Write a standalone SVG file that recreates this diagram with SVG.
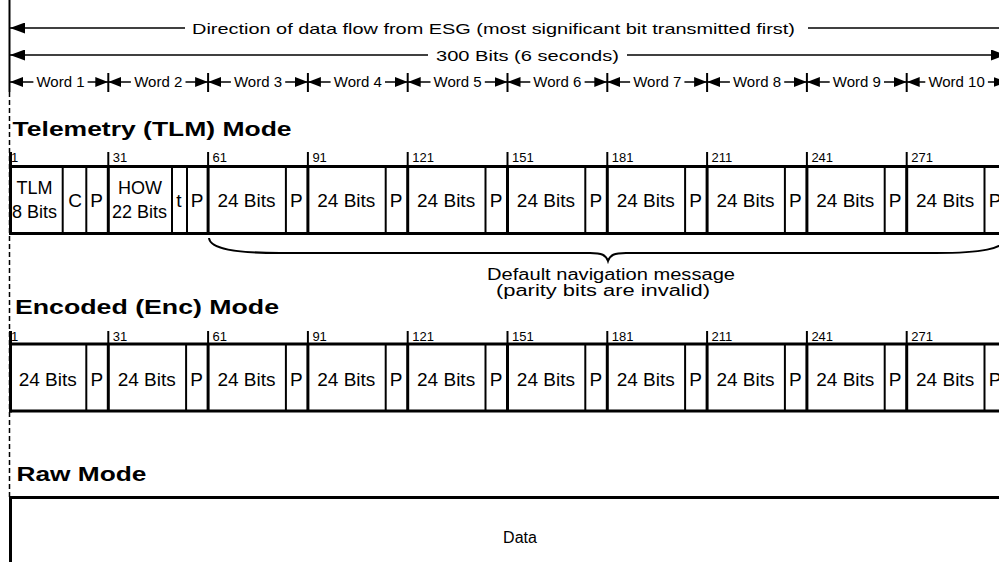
<svg xmlns="http://www.w3.org/2000/svg" width="999" height="562" viewBox="0 0 999 562">
<style>
text{font-family:"Liberation Sans",Arial,sans-serif;fill:#000}
.title{font-weight:bold;font-size:20px}
.num{font-size:13px}
.cell{font-size:19px;text-anchor:middle}
.cell2{font-size:18px;text-anchor:middle}
.word{font-size:15px;text-anchor:middle}
.hdr{font-size:15px;text-anchor:middle}
.note{font-size:16px;text-anchor:middle}
.thick{stroke:#000;stroke-width:3;fill:none}
.thin{stroke:#000;stroke-width:2;fill:none}
.tick{stroke:#000;stroke-width:2}
.arr{stroke:#000;stroke-width:1.5;fill:none}
.wa{stroke:#000;stroke-width:1.5;fill:none;marker-end:url(#ah)}
.wl{stroke:#000;stroke-width:1.5;fill:none;marker-start:url(#ah)}
</style>
<defs>
<marker id="ah" viewBox="0 0 13 10" refX="13" refY="5" markerWidth="13" markerHeight="10" markerUnits="userSpaceOnUse" orient="auto-start-reverse"><path d="M0,0 L13,5 L0,10 z" fill="#000"/></marker>
<marker id="ah2" viewBox="0 0 15 11" refX="15" refY="5.5" markerWidth="15" markerHeight="11" markerUnits="userSpaceOnUse" orient="auto-start-reverse"><path d="M0,0 L15,5.5 L0,11 z" fill="#000"/></marker>
</defs>
<rect width="999" height="562" fill="#fff"/>

<!-- left reference line -->
<g id="left-edge">
<line x1="9.5" y1="0" x2="9.5" y2="92" stroke="#000" stroke-width="2"/>
<line x1="9.5" y1="92" x2="9.5" y2="497" stroke="#000" stroke-width="1.5" stroke-dasharray="5 3"/>
</g>

<g id="connectors">
<!-- direction of data flow -->
<line class="arr" x1="10" y1="28" x2="185" y2="28" marker-start="url(#ah2)"/>
<line class="arr" x1="808" y1="28" x2="1000" y2="28"/>
<!-- 300 bits -->
<line class="arr" x1="10" y1="55" x2="428" y2="55" marker-start="url(#ah2)"/>
<line class="arr" x1="627" y1="55" x2="1006" y2="55" marker-end="url(#ah2)"/>
<!-- word arrows -->
<line class="wl" x1="10" y1="82" x2="33.4" y2="82"/><line class="wa" x1="87.6" y1="82" x2="108.3" y2="82"/>
<line class="wl" x1="108.3" y1="82" x2="130.9" y2="82"/><line class="wa" x1="185.5" y1="82" x2="208.1" y2="82"/>
<line class="wl" x1="208.1" y1="82" x2="230.9" y2="82"/><line class="wa" x1="285.2" y1="82" x2="307.9" y2="82"/>
<line class="wl" x1="307.9" y1="82" x2="330.6" y2="82"/><line class="wa" x1="385" y1="82" x2="407.7" y2="82"/>
<line class="wl" x1="407.7" y1="82" x2="430.5" y2="82"/><line class="wa" x1="484.8" y1="82" x2="507.5" y2="82"/>
<line class="wl" x1="507.5" y1="82" x2="530.3" y2="82"/><line class="wa" x1="584.6" y1="82" x2="607.3" y2="82"/>
<line class="wl" x1="607.3" y1="82" x2="630.1" y2="82"/><line class="wa" x1="684.4" y1="82" x2="707.1" y2="82"/>
<line class="wl" x1="707.1" y1="82" x2="729.9" y2="82"/><line class="wa" x1="784.2" y1="82" x2="806.9" y2="82"/>
<line class="wl" x1="806.9" y1="82" x2="829.7" y2="82"/><line class="wa" x1="884" y1="82" x2="906.7" y2="82"/>
<line class="wl" x1="906.7" y1="82" x2="925.3" y2="82"/><line class="wa" x1="987.9" y1="82" x2="1006.5" y2="82"/>
<!-- word ticks -->
<g class="tick">
<line x1="108.3" y1="73" x2="108.3" y2="92"/><line x1="208.1" y1="73" x2="208.1" y2="92"/>
<line x1="307.9" y1="73" x2="307.9" y2="92"/><line x1="407.7" y1="73" x2="407.7" y2="92"/>
<line x1="507.5" y1="73" x2="507.5" y2="92"/><line x1="607.3" y1="73" x2="607.3" y2="92"/>
<line x1="707.1" y1="73" x2="707.1" y2="92"/><line x1="806.9" y1="73" x2="806.9" y2="92"/>
<line x1="906.7" y1="73" x2="906.7" y2="92"/>
</g>
<!-- brace -->
<path class="thin" d="M209,238 C210,249 235,253 280,253 L590,253 C602,253 606,255 608,261 C610,255 614,253 626,253 L936,253 C981,253 1004,249 1006,238"/>
</g>

<g id="header-labels">
<text class="hdr" x="493.5" y="33.5" textLength="603" lengthAdjust="spacingAndGlyphs">Direction of data flow from ESG (most significant bit transmitted first)</text>
<text class="hdr" x="527.5" y="60.5" textLength="183" lengthAdjust="spacingAndGlyphs">300 Bits (6 seconds)</text>
<text class="word" x="60.5" y="87.4">Word 1</text>
<text class="word" x="158.2" y="87.4">Word 2</text>
<text class="word" x="258" y="87.4">Word 3</text>
<text class="word" x="357.8" y="87.4">Word 4</text>
<text class="word" x="457.6" y="87.4">Word 5</text>
<text class="word" x="557.4" y="87.4">Word 6</text>
<text class="word" x="657.2" y="87.4">Word 7</text>
<text class="word" x="757" y="87.4">Word 8</text>
<text class="word" x="856.8" y="87.4">Word 9</text>
<text class="word" x="956.6" y="87.4">Word 10</text>
</g>

<!-- Telemetry mode -->
<g id="tlm-mode">
<text class="title" x="12.6" y="136" textLength="279" lengthAdjust="spacingAndGlyphs">Telemetry (TLM) Mode</text>
<g class="tick">
<line x1="108.3" y1="152" x2="108.3" y2="166"/><line x1="208.1" y1="152" x2="208.1" y2="166"/>
<line x1="307.9" y1="152" x2="307.9" y2="166"/><line x1="407.7" y1="152" x2="407.7" y2="166"/>
<line x1="507.5" y1="152" x2="507.5" y2="166"/><line x1="607.3" y1="152" x2="607.3" y2="166"/>
<line x1="707.1" y1="152" x2="707.1" y2="166"/><line x1="806.9" y1="152" x2="806.9" y2="166"/>
<line x1="906.7" y1="152" x2="906.7" y2="166"/>
</g>
<g class="num-labels">
<text class="num" x="11" y="162">1</text><text class="num" x="112.8" y="162">31</text>
<text class="num" x="212.6" y="162">61</text><text class="num" x="312.4" y="162">91</text>
<text class="num" x="412.2" y="162">121</text><text class="num" x="512" y="162">151</text>
<text class="num" x="611.8" y="162">181</text><text class="num" x="711.6" y="162">211</text>
<text class="num" x="811.4" y="162">241</text><text class="num" x="911.2" y="162">271</text>
</g>
<line class="thick" x1="10" y1="166.5" x2="1010" y2="166.5"/>
<line class="thick" x1="10" y1="233.5" x2="1010" y2="233.5"/>
<line class="thick" x1="10.5" y1="152" x2="10.5" y2="235"/>
<g id="tlm-tlm"><line class="thin" x1="62.7" y1="166" x2="62.7" y2="234"/><text class="cell2" x="34.5" y="194">TLM</text><text class="cell2" x="34.5" y="218">8 Bits</text></g>
<g id="tlm-c"><line class="thin" x1="86.3" y1="166" x2="86.3" y2="234"/><text class="cell" x="75" y="207">C</text></g>
<g id="tlm-p1"><line class="thick" x1="108.3" y1="166" x2="108.3" y2="234"/><text class="cell" x="96.5" y="207">P</text></g>
<g id="tlm-how"><line class="thin" x1="172" y1="166" x2="172" y2="234"/><text class="cell2" x="140" y="194">HOW</text><text class="cell2" x="139.5" y="218">22 Bits</text></g>
<g id="tlm-t"><line class="thin" x1="187" y1="166" x2="187" y2="234"/><text class="cell" x="179" y="207">t</text></g>
<g id="tlm-p2"><line class="thick" x1="208.1" y1="166" x2="208.1" y2="234"/><text class="cell" x="197" y="207">P</text></g>
<g id="tlm-w3"><line class="thin" x1="285.9" y1="166" x2="285.9" y2="234"/><text class="cell" x="246.5" y="207">24 Bits</text><line class="thick" x1="307.9" y1="166" x2="307.9" y2="234"/><text class="cell" x="296.4" y="207">P</text></g>
<g id="tlm-w4"><line class="thin" x1="385.7" y1="166" x2="385.7" y2="234"/><text class="cell" x="346.3" y="207">24 Bits</text><line class="thick" x1="407.7" y1="166" x2="407.7" y2="234"/><text class="cell" x="396.2" y="207">P</text></g>
<g id="tlm-w5"><line class="thin" x1="485.5" y1="166" x2="485.5" y2="234"/><text class="cell" x="446.1" y="207">24 Bits</text><line class="thick" x1="507.5" y1="166" x2="507.5" y2="234"/><text class="cell" x="496" y="207">P</text></g>
<g id="tlm-w6"><line class="thin" x1="585.3" y1="166" x2="585.3" y2="234"/><text class="cell" x="545.9" y="207">24 Bits</text><line class="thick" x1="607.3" y1="166" x2="607.3" y2="234"/><text class="cell" x="595.8" y="207">P</text></g>
<g id="tlm-w7"><line class="thin" x1="685.1" y1="166" x2="685.1" y2="234"/><text class="cell" x="645.7" y="207">24 Bits</text><line class="thick" x1="707.1" y1="166" x2="707.1" y2="234"/><text class="cell" x="695.6" y="207">P</text></g>
<g id="tlm-w8"><line class="thin" x1="784.9" y1="166" x2="784.9" y2="234"/><text class="cell" x="745.5" y="207">24 Bits</text><line class="thick" x1="806.9" y1="166" x2="806.9" y2="234"/><text class="cell" x="795.4" y="207">P</text></g>
<g id="tlm-w9"><line class="thin" x1="884.7" y1="166" x2="884.7" y2="234"/><text class="cell" x="845.3" y="207">24 Bits</text><line class="thick" x1="906.7" y1="166" x2="906.7" y2="234"/><text class="cell" x="895.2" y="207">P</text></g>
<g id="tlm-w10"><line class="thin" x1="984.5" y1="166" x2="984.5" y2="234"/><text class="cell" x="945.1" y="207">24 Bits</text><text class="cell" x="995" y="207">P</text></g>
</g>

<g id="nav-note">
<text class="note" x="611" y="280" textLength="248" lengthAdjust="spacingAndGlyphs">Default navigation message</text>
<text class="note" x="603" y="295.5" textLength="214" lengthAdjust="spacingAndGlyphs">(parity bits are invalid)</text>
</g>

<!-- Encoded mode -->
<g id="enc-mode">
<text class="title" x="15" y="314" textLength="264" lengthAdjust="spacingAndGlyphs">Encoded (Enc) Mode</text>
<g class="tick">
<line x1="108.3" y1="331" x2="108.3" y2="344"/><line x1="208.1" y1="331" x2="208.1" y2="344"/>
<line x1="307.9" y1="331" x2="307.9" y2="344"/><line x1="407.7" y1="331" x2="407.7" y2="344"/>
<line x1="507.5" y1="331" x2="507.5" y2="344"/><line x1="607.3" y1="331" x2="607.3" y2="344"/>
<line x1="707.1" y1="331" x2="707.1" y2="344"/><line x1="806.9" y1="331" x2="806.9" y2="344"/>
<line x1="906.7" y1="331" x2="906.7" y2="344"/>
</g>
<g class="num-labels">
<text class="num" x="11" y="340.5">1</text><text class="num" x="112.8" y="340.5">31</text>
<text class="num" x="212.6" y="340.5">61</text><text class="num" x="312.4" y="340.5">91</text>
<text class="num" x="412.2" y="340.5">121</text><text class="num" x="512" y="340.5">151</text>
<text class="num" x="611.8" y="340.5">181</text><text class="num" x="711.6" y="340.5">211</text>
<text class="num" x="811.4" y="340.5">241</text><text class="num" x="911.2" y="340.5">271</text>
</g>
<line class="thick" x1="10" y1="344" x2="1010" y2="344"/>
<line class="thick" x1="10" y1="411" x2="1010" y2="411"/>
<line class="thick" x1="10.5" y1="331" x2="10.5" y2="412.5"/>
<g id="enc-w1"><line class="thin" x1="86.3" y1="344" x2="86.3" y2="411"/><text class="cell" x="47.7" y="386">24 Bits</text><line class="thick" x1="108.3" y1="344" x2="108.3" y2="411"/><text class="cell" x="96.8" y="386">P</text></g>
<g id="enc-w2"><line class="thin" x1="186.1" y1="344" x2="186.1" y2="411"/><text class="cell" x="146.7" y="386">24 Bits</text><line class="thick" x1="208.1" y1="344" x2="208.1" y2="411"/><text class="cell" x="196.6" y="386">P</text></g>
<g id="enc-w3"><line class="thin" x1="285.9" y1="344" x2="285.9" y2="411"/><text class="cell" x="246.5" y="386">24 Bits</text><line class="thick" x1="307.9" y1="344" x2="307.9" y2="411"/><text class="cell" x="296.4" y="386">P</text></g>
<g id="enc-w4"><line class="thin" x1="385.7" y1="344" x2="385.7" y2="411"/><text class="cell" x="346.3" y="386">24 Bits</text><line class="thick" x1="407.7" y1="344" x2="407.7" y2="411"/><text class="cell" x="396.2" y="386">P</text></g>
<g id="enc-w5"><line class="thin" x1="485.5" y1="344" x2="485.5" y2="411"/><text class="cell" x="446.1" y="386">24 Bits</text><line class="thick" x1="507.5" y1="344" x2="507.5" y2="411"/><text class="cell" x="496" y="386">P</text></g>
<g id="enc-w6"><line class="thin" x1="585.3" y1="344" x2="585.3" y2="411"/><text class="cell" x="545.9" y="386">24 Bits</text><line class="thick" x1="607.3" y1="344" x2="607.3" y2="411"/><text class="cell" x="595.8" y="386">P</text></g>
<g id="enc-w7"><line class="thin" x1="685.1" y1="344" x2="685.1" y2="411"/><text class="cell" x="645.7" y="386">24 Bits</text><line class="thick" x1="707.1" y1="344" x2="707.1" y2="411"/><text class="cell" x="695.6" y="386">P</text></g>
<g id="enc-w8"><line class="thin" x1="784.9" y1="344" x2="784.9" y2="411"/><text class="cell" x="745.5" y="386">24 Bits</text><line class="thick" x1="806.9" y1="344" x2="806.9" y2="411"/><text class="cell" x="795.4" y="386">P</text></g>
<g id="enc-w9"><line class="thin" x1="884.7" y1="344" x2="884.7" y2="411"/><text class="cell" x="845.3" y="386">24 Bits</text><line class="thick" x1="906.7" y1="344" x2="906.7" y2="411"/><text class="cell" x="895.2" y="386">P</text></g>
<g id="enc-w10"><line class="thin" x1="984.5" y1="344" x2="984.5" y2="411"/><text class="cell" x="945.1" y="386">24 Bits</text><text class="cell" x="995" y="386">P</text></g>
</g>

<!-- Raw mode -->
<g id="raw-mode">
<text class="title" x="16.5" y="481" textLength="130" lengthAdjust="spacingAndGlyphs">Raw Mode</text>
<line class="thick" x1="9" y1="497.5" x2="1000" y2="497.5"/>
<line class="thick" x1="10.5" y1="496" x2="10.5" y2="562"/>
<g id="raw-data"><text x="520" y="543" font-size="16" text-anchor="middle">Data</text></g>
</g>
</svg>
